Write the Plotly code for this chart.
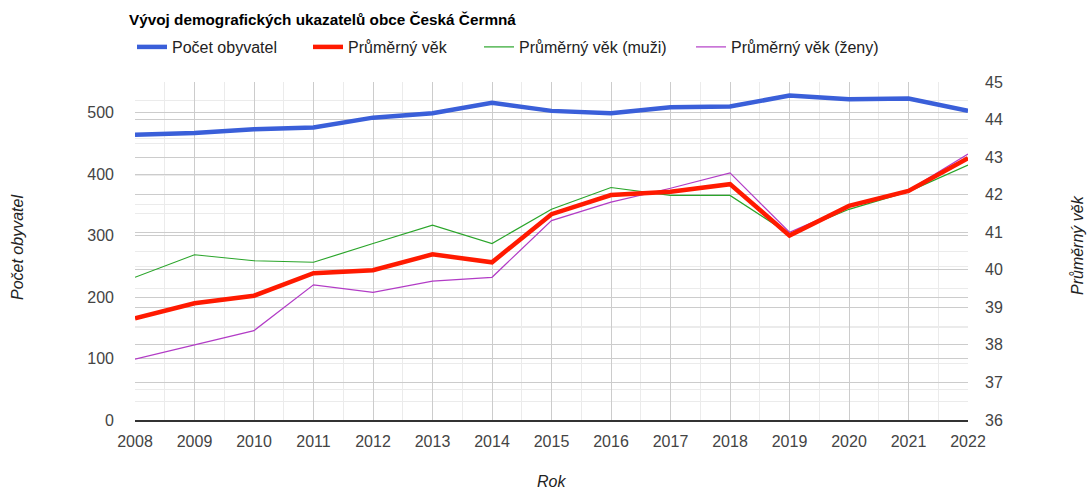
import plotly.graph_objects as go

years = list(range(2008, 2023))
pocet_obyvatel = [464, 467, 473, 476, 492, 499, 516, 503, 499, 509, 510, 528, 522, 523, 503]
prumerny_vek = [38.71, 39.11, 39.31, 39.91, 39.99, 40.41, 40.20, 41.48, 41.99, 42.08, 42.28, 40.91, 41.70, 42.10, 42.97]
prumerny_vek_muzi = [39.80, 40.40, 40.24, 40.20, 40.70, 41.19, 40.70, 41.61, 42.19, 41.98, 41.98, 40.95, 41.61, 42.08, 42.79]
prumerny_vek_zeny = [37.62, 38.00, 38.38, 39.60, 39.40, 39.70, 39.80, 41.31, 41.80, 42.17, 42.58, 41.00, 41.68, 42.12, 43.08]
left_ticks = [0, 100, 200, 300, 400, 500]

title_text = "Vývoj demografických ukazatelů obce Česká Čermná"
FONT = "Arial, 'Liberation Sans', sans-serif"

fig = go.Figure()
fig.add_trace(go.Scatter(x=years, y=prumerny_vek_zeny, name="Průměrný věk (ženy)", mode="lines",
                         line=dict(color="#b23cc6", width=1.2), yaxis="y2", legend="legend4"))
fig.add_trace(go.Scatter(x=years, y=prumerny_vek_muzi, name="Průměrný věk (muži)", mode="lines",
                         line=dict(color="#2aa52a", width=1.2), yaxis="y2", legend="legend3"))
fig.add_trace(go.Scatter(x=years, y=prumerny_vek, name="Průměrný věk", mode="lines",
                         line=dict(color="#ff1a00", width=4.5), yaxis="y2", legend="legend2"))
fig.add_trace(go.Scatter(x=years, y=pocet_obyvatel, name="Počet obyvatel", mode="lines",
                         line=dict(color="#3a5fd9", width=4.5), yaxis="y", legend="legend"))

W = 833.0
H = 338.0
def lx(px):
    return (px - 135) / W
def ly(py):
    return (420 - py) / H

leg_common = dict(orientation="h", yanchor="middle", y=ly(47), xanchor="left",
                  font=dict(family=FONT, size=16, color="#222"), bgcolor="rgba(0,0,0,0)",
                  itemwidth=30, tracegroupgap=0)

fig.update_layout(
    width=1087, height=492,
    margin=dict(l=135, r=119, t=82, b=72),
    paper_bgcolor="white", plot_bgcolor="white",
    font=dict(family=FONT, size=16, color="#444"),
    showlegend=True,
    legend=dict(x=lx(132), **leg_common),
    legend2=dict(x=lx(308), **leg_common),
    legend3=dict(x=lx(479), **leg_common),
    legend4=dict(x=lx(691), **leg_common),
    xaxis=dict(range=[2008, 2022], tickmode="linear", tick0=2008, dtick=1,
               showgrid=True, gridcolor="#cccccc", gridwidth=1,
               minor=dict(dtick=0.5, showgrid=True, gridcolor="#ebebeb"),
               showline=True, linecolor="#333333", linewidth=1.5,
               ticks="", zeroline=False, ticklabelstandoff=6,
               tickfont=dict(family=FONT, size=16, color="#444")),
    yaxis=dict(range=[0, 550], tickvals=left_ticks,
               showgrid=True, gridcolor="#cccccc",
               minor=dict(tickvals=[50, 150, 250, 350, 450, 550], showgrid=True, gridcolor="#ebebeb"),
               zeroline=False, ticks="", ticklabelstandoff=20,
               tickfont=dict(family=FONT, size=16, color="#444")),
    yaxis2=dict(range=[36, 45], overlaying="y", side="right", tickmode="linear", tick0=36, dtick=1,
                showgrid=True, gridcolor="#cccccc",
                minor=dict(dtick=0.5, showgrid=True, gridcolor="#ebebeb"),
                zeroline=False, ticks="", ticklabelstandoff=16,
                tickfont=dict(family=FONT, size=16, color="#444")),
    annotations=[
        dict(text="<b>" + title_text + "</b>", xref="paper", yref="paper", x=lx(127), y=ly(20),
             xanchor="left", yanchor="middle", showarrow=False,
             font=dict(family=FONT, size=15.3, color="#000")),
        dict(text="<i>Počet obyvatel</i>", xref="paper", yref="paper", x=lx(18), y=ly(248),
             xanchor="center", yanchor="middle", textangle=-90, showarrow=False,
             font=dict(family=FONT, size=16, color="#222")),
        dict(text="<i>Průměrný věk</i>", xref="paper", yref="paper", x=lx(1077), y=ly(245),
             xanchor="center", yanchor="middle", textangle=-90, showarrow=False,
             font=dict(family=FONT, size=16, color="#222")),
        dict(text="<i>Rok</i>", xref="paper", yref="paper", x=lx(551), y=ly(481),
             xanchor="center", yanchor="middle", showarrow=False,
             font=dict(family=FONT, size=16, color="#222")),
    ],
)

fig.write_html("out.html")
